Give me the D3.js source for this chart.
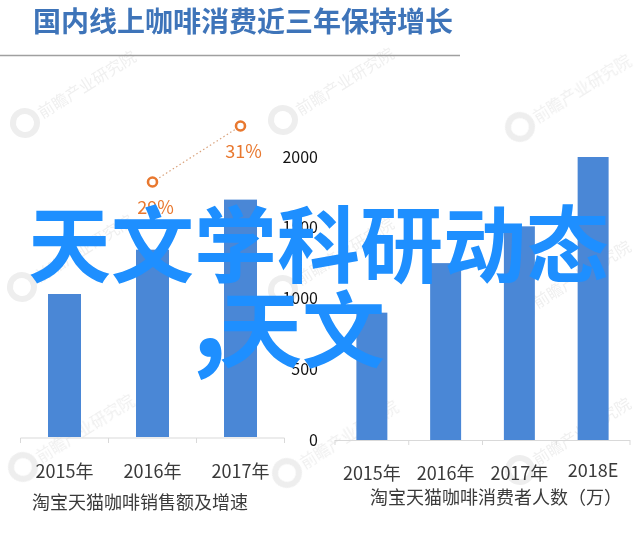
<!DOCTYPE html>
<html>
<head>
<meta charset="utf-8">
<script src="https://cdn.jsdelivr.net/npm/d3@7"></script>
<style>
  html, body { margin: 0; padding: 0; background: #fff; }
  svg { display: block; font-family: "Noto Sans CJK SC", "Noto Sans", sans-serif; }
</style>
</head>
<body>
<svg id="chart" width="640" height="552"></svg>
<script>
// ---- data ----
const title = "国内线上咖啡消费近三年保持增长";
const salesYears = ["2015年", "2016年", "2017年"];
const salesValues = [10.0, 13.1, 16.6];          // relative sales amount (no axis shown)
const growthRates = [null, 29, 31];               // % growth
const salesCaption = "淘宝天猫咖啡销售额及增速";

const userYears = ["2015年", "2016年", "2017年", "2018E"];
const userValues = [900, 1250, 1510, 2000];       // 万人
const userTicks = [0, 500, 1000, 1500, 2000];
const userCaption = "淘宝天猫咖啡消费者人数（万）";

const overlayLine1 = "天文学科研动态";
const overlayLine2a = ",";
const overlayLine2b = "天文";
const watermark = "前瞻产业研究院";

// ---- drawing ----
const svg = d3.select("#chart");
const barColor = "#4a87d6";
const orange = "#e8782f";

// watermarks (very faint)
const wmPos = [[25,123],[283,120],[520,127],[22,287],[283,290],[520,313],[23,467],[287,473],[520,470]];
const wm = svg.append("g").attr("opacity", 0.4);
wmPos.forEach(([x, y]) => {
  const g = wm.append("g").attr("transform", `translate(${x},${y}) rotate(-32)`);
  g.append("circle").attr("r", 12).attr("fill", "none").attr("stroke", "#d4d4d4").attr("stroke-width", 6);
  g.append("text").attr("x", 17).attr("y", 6).attr("font-size", 16).attr("fill", "#d8d8d8")
    .text(watermark);
});

// title
svg.append("text").attr("x", 33).attr("y", 32)
  .attr("font-size", 28).attr("font-weight", "bold").attr("fill", "#3e74b9")
  .text(title);
svg.append("line").attr("x1", 0).attr("x2", 460).attr("y1", 55.5).attr("y2", 55.5)
  .attr("stroke", "#a0a0a0").attr("stroke-width", 1.5);

// ---- left chart: sales + growth ----
const xL = d3.scaleBand().domain(salesYears).range([20.5, 284.5]).paddingInner(0.625).paddingOuter(0.3125);
const yL = d3.scaleLinear().domain([0, 20]).range([437, 151]);
const yG = d3.scaleLinear().domain([25, 35]).range([294, 14]);

const left = svg.append("g");
left.selectAll("rect").data(salesValues).join("rect")
  .attr("x", (d, i) => xL(salesYears[i]))
  .attr("y", d => yL(d))
  .attr("width", xL.bandwidth())
  .attr("height", d => yL(0) - yL(d))
  .attr("fill", barColor);

// baseline with category ticks
const axL = left.append("g").attr("transform", "translate(0,438)")
  .call(d3.axisBottom(xL).tickSize(0).tickFormat(""));
axL.select(".domain").attr("stroke", "#d9d9d9").attr("d", "M20.5,0H284.5");
const bndL = [20.5, ...salesYears.map(c => xL(c) + xL.bandwidth() / 2 + xL.step() / 2)];
left.selectAll("line.tk").data(bndL).join("line").attr("class", "tk")
  .attr("x1", d => d).attr("x2", d => d).attr("y1", 438).attr("y2", 443)
  .attr("stroke", "#d9d9d9");

left.selectAll("text.cat").data(salesYears).join("text").attr("class", "cat")
  .attr("x", d => xL(d) + xL.bandwidth() / 2).attr("y", 478)
  .attr("text-anchor", "middle").attr("font-size", 18).attr("fill", "#3a3a3a")
  .text(d => d);
left.append("text").attr("x", 32).attr("y", 509).attr("font-size", 18).attr("fill", "#3a3a3a")
  .text(salesCaption);

// growth line
const gPts = growthRates.map((g, i) => ({ g, c: salesYears[i] })).filter(d => d.g != null);
left.append("path").datum(gPts)
  .attr("d", d3.line().x(d => xL(d.c) + xL.bandwidth() / 2).y(d => yG(d.g)))
  .attr("fill", "none").attr("stroke", "#d9a27c").attr("stroke-width", 1.2).attr("stroke-dasharray", "1.5,2.5");
left.selectAll("circle.gp").data(gPts).join("circle").attr("class", "gp")
  .attr("cx", d => xL(d.c) + xL.bandwidth() / 2).attr("cy", d => yG(d.g))
  .attr("r", 4.5).attr("fill", "#fff").attr("stroke", orange).attr("stroke-width", 2.6);
left.selectAll("text.gl").data(gPts).join("text").attr("class", "gl")
  .attr("x", d => xL(d.c) + xL.bandwidth() / 2 + 3).attr("y", d => yG(d.g) + 32)
  .attr("text-anchor", "middle").attr("font-size", 18).attr("fill", orange)
  .text(d => d.g + "%");

// ---- right chart: users ----
const xR = d3.scaleBand().domain(userYears).range([335, 630]).paddingInner(0.58).paddingOuter(0.29);
const yR = d3.scaleLinear().domain([0, 2000]).range([440, 157]);
const right = svg.append("g");

right.selectAll("rect").data(userValues).join("rect")
  .attr("x", (d, i) => xR(userYears[i]))
  .attr("y", d => yR(d))
  .attr("width", xR.bandwidth())
  .attr("height", d => yR(0) - yR(d))
  .attr("fill", barColor);

const ayR = right.append("g").attr("transform", "translate(318,0)")
  .call(d3.axisLeft(yR).tickValues(userTicks).tickFormat(d3.format("d")).tickSize(0).tickPadding(0));
ayR.select(".domain").remove();
ayR.selectAll("text").attr("font-size", 16).attr("fill", "#111")
  .attr("font-family", "'Noto Sans CJK SC', sans-serif");

right.append("line").attr("x1", 335).attr("x2", 630).attr("y1", 440.5).attr("y2", 440.5)
  .attr("stroke", "#d9d9d9");
const bndR = [335, ...userYears.map(c => xR(c) + xR.bandwidth() / 2 + xR.step() / 2)];
right.selectAll("line.tk").data(bndR).join("line").attr("class", "tk")
  .attr("x1", d => d).attr("x2", d => d).attr("y1", 440).attr("y2", 445)
  .attr("stroke", "#d9d9d9");

right.selectAll("text.cat").data(userYears).join("text").attr("class", "cat")
  .attr("x", d => xR(d) + xR.bandwidth() / 2).attr("y", (d, i) => i === 3 ? 477 : 480)
  .attr("text-anchor", "middle").attr("font-size", 18).attr("fill", "#3a3a3a")
  .text(d => d);
right.append("text").attr("x", 370).attr("y", 504).attr("font-size", 18).attr("fill", "#3a3a3a")
  .text(userCaption);

// ---- overlay text ----
const ov = svg.append("g").attr("fill", "#1e8fff").attr("font-weight", "bold").attr("font-size", 83);
ov.append("text").attr("x", 28).attr("y", 276).text(overlayLine1);
const l2 = ov.append("text").attr("y", 361);
l2.append("tspan").attr("x", 192).attr("y", 357).attr("font-size", 108).text(overlayLine2a);
l2.append("tspan").attr("x", 219).attr("y", 361).attr("font-size", 83).text(overlayLine2b);
</script>
</body>
</html>
